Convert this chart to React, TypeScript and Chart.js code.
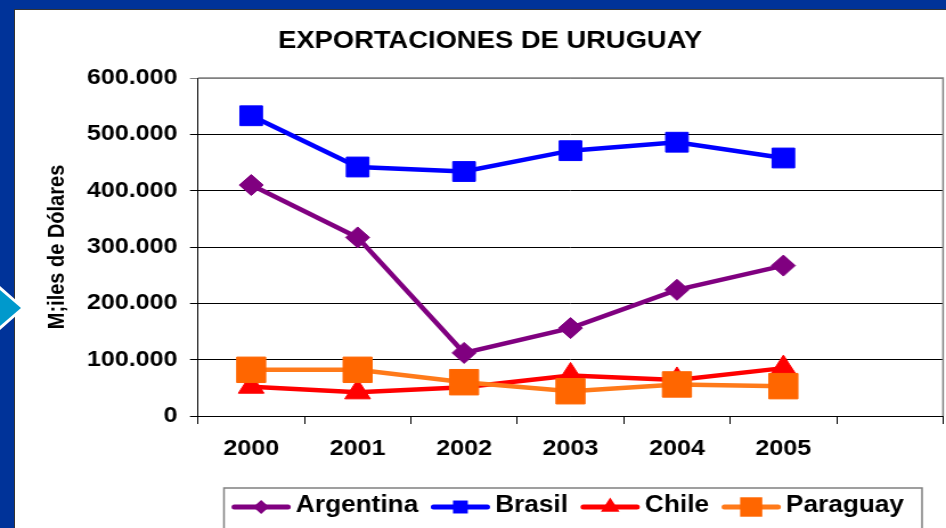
import React, { useEffect, useRef } from "react";
import { Chart, registerables } from "chart.js";

Chart.register(...registerables);

const categories = ["2000", "2001", "2002", "2003", "2004", "2005", ""];
const argentina = [410000, 317000, 112000, 156000, 224000, 267000];
const brasil = [533000, 442000, 434000, 471000, 486000, 458000];
const chile = [52000, 42000, 51000, 72000, 64000, 85000];
const paraguay = [82000, 82000, 60000, 44000, 56000, 53000];
const yTicks = [0, 100000, 200000, 300000, 400000, 500000, 600000];
const chartTitle = "EXPORTACIONES DE URUGUAY";
const yTitle = "M;iles de Dólares";

const FONT = "'Liberation Sans', Arial, sans-serif";
const CW = 830;
const CH = 528;
const SX = 946 / CW;

const fmt = (v: number) => String(v).replace(/\B(?=(\d{3})+(?!\d))/g, ".");

const series = [
  { label: "Argentina", data: argentina, line: "#800080", fill: "#800080", style: "rectRot", r: 10.5, lr: 7, order: 3 },
  { label: "Brasil", data: brasil, line: "#0000FF", fill: "#0000FF", style: "rect", r: 14, lr: 9, order: 2 },
  { label: "Chile", data: chile, line: "#FF0000", fill: "#FF0000", style: "triangle", r: 13, lr: 9.5, order: 1 },
  { label: "Paraguay", data: paraguay, line: "#FF7A1A", fill: "#FF6600", style: "rect", r: 18, lr: 13.5, order: 0 },
];

const decorPlugin = {
  id: "decor",
  beforeDatasetsDraw(chart: any) {
    const { ctx, chartArea } = chart;
    ctx.save();
    ctx.strokeStyle = "#808080";
    ctx.lineWidth = 1.5;
    ctx.beginPath();
    ctx.moveTo(chartArea.left, chartArea.top);
    ctx.lineTo(chartArea.right, chartArea.top);
    ctx.lineTo(chartArea.right, chartArea.bottom);
    ctx.stroke();
    ctx.restore();
  },
  afterDraw(chart: any) {
    const { ctx } = chart;
    ctx.save();
    // title
    ctx.fillStyle = "#000";
    ctx.font = `bold 24px ${FONT}`;
    ctx.textAlign = "center";
    ctx.textBaseline = "middle";
    ctx.fillText(chartTitle, 430, 41);

    // legend box
    ctx.strokeStyle = "#808080";
    ctx.lineWidth = 1.5;
    ctx.strokeRect(196.5, 488, 809 - 196.5, 60);

    ctx.font = `bold 23px ${FONT}`;
    ctx.textAlign = "left";
    let x = 203.6;
    const y = 506;
    series.forEach((s) => {
      ctx.strokeStyle = s.line;
      ctx.lineWidth = 5;
      ctx.lineCap = "round";
      ctx.beginPath();
      ctx.moveTo(x + 2, y + 1);
      ctx.lineTo(x + 49, y + 1);
      ctx.stroke();
      const mx = x + 25.5;
      const my = y + 1;
      ctx.fillStyle = s.fill;
      ctx.beginPath();
      if (s.style === "rectRot") {
        ctx.moveTo(mx, my - s.lr);
        ctx.lineTo(mx + s.lr, my);
        ctx.lineTo(mx, my + s.lr);
        ctx.lineTo(mx - s.lr, my);
        ctx.closePath();
      } else if (s.style === "rect") {
        ctx.rect(mx - s.lr * 0.72, my - s.lr * 0.72, s.lr * 1.44, s.lr * 1.44);
      } else {
        ctx.moveTo(mx, my - s.lr);
        ctx.lineTo(mx + s.lr * 0.866, my + s.lr * 0.5);
        ctx.lineTo(mx - s.lr * 0.866, my + s.lr * 0.5);
        ctx.closePath();
      }
      ctx.fill();
      ctx.fillStyle = "#000";
      ctx.fillText(s.label, x + 56, y);
      x += 56 + ctx.measureText(s.label).width + 11.5;
    });
    ctx.restore();
  },
};

export default function App() {
  const ref = useRef<HTMLCanvasElement | null>(null);

  useEffect(() => {
    if (!ref.current) return;
    const chart = new Chart(ref.current, {
      type: "line",
      data: {
        labels: categories,
        datasets: series.map((s) => ({
          label: s.label,
          data: s.data,
          borderColor: s.line,
          backgroundColor: s.fill,
          borderWidth: 4.5,
          pointStyle: s.style as any,
          pointRadius: s.r,
          pointBackgroundColor: s.fill,
          pointBorderColor: s.fill,
          pointBorderWidth: 1,
          tension: 0,
          fill: false,
          order: s.order,
          clip: false,
        })),
      },
      options: {
        responsive: false,
        animation: false,
        devicePixelRatio: 1,
        layout: { autoPadding: false, padding: { left: 38, right: 2.6, top: 78, bottom: 0 } },
        plugins: {
          legend: { display: false },
          title: { display: false },
          tooltip: { enabled: false },
        },
        scales: {
          x: {
            type: "category",
            offset: true,
            grid: {
              offset: true,
              drawOnChartArea: false,
              drawTicks: true,
              tickLength: 8,
              color: "#000",
              lineWidth: 1,
            },
            border: { color: "#000", width: 1 },
            ticks: {
              font: { family: FONT, size: 22, weight: "bold" },
              color: "#000",
              padding: 12,
              maxRotation: 0,
              autoSkip: false,
            },
            afterFit: (s: any) => {
              s.height = 112;
            },
          },
          y: {
            min: 0,
            max: 600000,
            afterBuildTicks: (s: any) => {
              s.ticks = yTicks.map((v) => ({ value: v }));
            },
            ticks: {
              callback: (v: any) => fmt(Number(v)),
              font: { family: FONT, size: 22, weight: "bold" },
              color: "#000",
              padding: 11,
            },
            grid: {
              color: (c: any) => (c.tick && c.tick.value === 600000 ? "#808080" : "#000"),
              lineWidth: 1,
              tickLength: 7,
              drawTicks: true,
            },
            border: { color: "#000", width: 1 },
            title: {
              display: true,
              text: yTitle,
              font: { family: FONT, size: 20, weight: "bold" },
              color: "#000",
              padding: 0,
            },
            afterFit: (s: any) => {
              s.width = 135.7;
            },
          },
        },
      } as any,
      plugins: [decorPlugin],
    });
    return () => chart.destroy();
  }, []);

  return (
    <div
      style={{
        position: "fixed",
        left: 0,
        top: 0,
        width: 946,
        height: 528,
        background: "#003399",
        overflow: "hidden",
      }}
    >
      <div
        style={{
          position: "absolute",
          left: 14,
          top: 9,
          width: 946 - 14,
          height: 528 - 9,
          background: "#fff",
          borderTop: "1px solid #333",
          borderLeft: "1px solid #333",
          boxSizing: "border-box",
        }}
      />
      <div
        style={{
          position: "absolute",
          left: 0,
          top: 286,
          width: 25,
          height: 44,
          background: "#fff",
          clipPath: "polygon(0 0, 100% 50%, 0 100%)",
        }}
      />
      <div
        style={{
          position: "absolute",
          left: 0,
          top: 290,
          width: 21,
          height: 36,
          background: "#0099CC",
          clipPath: "polygon(0 0, 100% 50%, 0 100%)",
        }}
      />
      <div
        style={{
          position: "absolute",
          left: 0,
          top: 0,
          width: CW,
          height: CH,
          transform: `scaleX(${SX})`,
          transformOrigin: "0 0",
        }}
      >
        <canvas ref={ref} width={CW} height={CH} style={{ display: "block" }} />
      </div>
    </div>
  );
}
